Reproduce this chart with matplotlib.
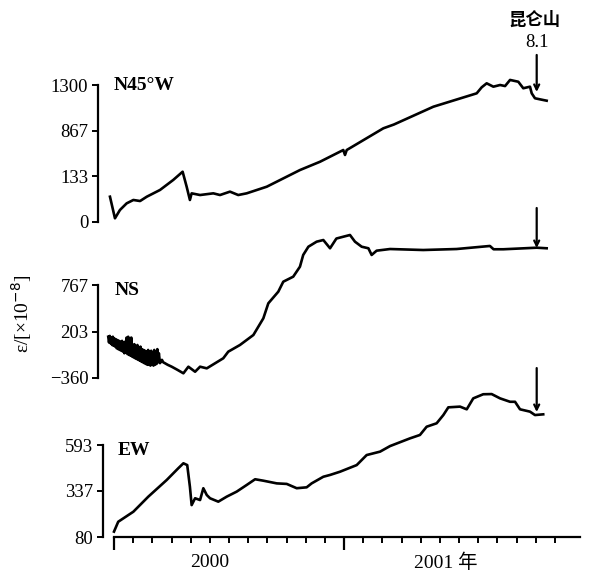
import matplotlib
matplotlib.use("Agg")
import matplotlib.pyplot as plt
from matplotlib.ticker import FixedLocator, NullFormatter
from matplotlib.transforms import blended_transform_factory

# 时间轴: 月份, 0 = 2000年1月
# N45°W 分量
n45w_month = [-0.21, 0.05, 0.31, 0.66, 1.01, 1.36, 1.71, 2.40, 3.09, 3.58, 3.79, 3.96,
              4.05, 4.49, 5.18, 5.53, 6.05, 6.48, 6.92, 7.97, 9.01, 9.70, 10.75, 11.96,
              12.05, 12.14, 14.05, 14.6, 16.66, 18.92, 19.18, 19.44, 19.79, 20.14, 20.40,
              20.66, 21.09, 21.35, 21.70, 21.79, 21.96, 22.22, 22.57]
n45w_value = [240, 35, 114, 177, 209, 199, 240, 304, 399, 477, 335, 209,
              272, 256, 272, 256, 288, 256, 272, 335, 430, 493, 572, 683,
              636, 683, 889, 925, 1094, 1221, 1278, 1316, 1284, 1300, 1290,
              1348, 1331, 1269, 1284, 1221, 1174, 1164, 1151]

# NS 分量
ns_month = [-0.30, -0.26, -0.22, -0.18, -0.14, -0.10, -0.06, -0.02, 0.02, 0.06, 0.10, 0.14,
            0.18, 0.22, 0.26, 0.30, 0.34, 0.38, 0.42, 0.46, 0.50, 0.54, 0.58, 0.62,
            0.66, 0.70, 0.74, 0.78, 0.82, 0.86, 0.90, 0.94, 0.98, 1.02, 1.06, 1.10,
            1.14, 1.18, 1.22, 1.26, 1.30, 1.34, 1.38, 1.42, 1.46, 1.50, 1.54, 1.58,
            1.62, 1.66, 1.70, 1.74, 1.78, 1.82, 1.86, 1.90, 1.94, 1.98, 2.02, 2.06,
            2.10, 2.14, 2.18, 2.22, 2.26, 2.30, 2.34, 2.40, 2.50, 2.57, 2.65, 2.80,
            3.01, 3.30, 3.62, 3.88, 4.23, 4.49, 4.84, 5.27, 5.70, 5.96, 6.57, 7.27,
            7.79, 8.05, 8.57, 8.83, 9.35, 9.70, 9.87, 10.14, 10.57, 10.92, 11.27,
            11.60, 11.96, 12.31, 12.57, 12.92, 13.27, 13.44, 13.70, 14.40, 16.13,
            17.87, 19.61, 19.80, 20.31, 22.05, 22.57]
ns_value = [140, 70, 150, 60, 130, 40, 140, 30, 120, 20, 110, 0,
            100, -10, 90, -20, 80, -30, 90, -40, 70, -60, 80, -50,
            130, -70, 140, -80, 60, -90, 130, -100, 40, -110, 50, -120,
            20, -130, 40, -140, 0, -150, 20, -160, -10, -170, -20, -180,
            -30, -190, -40, -200, -20, -200, -40, -210, -30, -190, -50, -210,
            -20, -200, -40, -190, -10, -170, -60, -180, -140, -170, -180, -200,
            -223, -260, -303, -223, -284, -223, -243, -182, -121, -41, 40, 161,
            363, 545, 686, 807, 868, 989, 1131, 1231, 1292, 1312, 1212,
            1330, 1352, 1373, 1292, 1231, 1212, 1131, 1183, 1203, 1191,
            1203, 1240, 1200, 1200, 1219, 1212]

# EW 分量
ew_month = [0.00, 0.22, 1.01, 1.79, 2.75, 3.35, 3.62, 3.82, 3.96, 4.05, 4.23, 4.49,
            4.66, 4.84, 5.01, 5.44, 5.88, 6.40, 6.92, 7.36, 7.79, 8.49, 9.01, 9.53,
            10.05, 10.31, 10.92, 11.27, 11.79, 12.66, 13.18, 13.88, 14.40, 15.44,
            15.96, 16.31, 16.83, 17.18, 17.44, 18.05, 18.40, 18.74, 19.26, 19.70,
            20.14, 20.66, 20.92, 21.18, 21.70, 21.96, 22.39]
ew_value = [110, 165, 221, 305, 398, 463, 491, 481, 360, 258, 296, 286,
            352, 314, 296, 277, 305, 333, 370, 402, 394, 379, 376, 352,
            357, 379, 416, 426, 444, 481, 537, 556, 587, 630,
            649, 695, 714, 760, 803, 807, 792, 853, 876, 877,
            853, 834, 834, 792, 779, 760, 764]

# 刻度
n45w_ticks = [0, 433, 867, 1300]
n45w_ticklabels = ["0", "133", "867", "1300"]
ns_ticks = [-360, 203, 767]
ns_ticklabels = ["\u2212360", "203", "767"]
ew_ticks = [80, 337, 593]
ew_ticklabels = ["80", "337", "593"]

year_label_month = [5.0, 17.3]
year_labels = ["2000", "2001 年"]
major_months = [0, 12]
minor_months = [m for m in range(1, 24) if m != 12]

quake_month = 22.05
quake_name = "昆仑山"
quake_mag = "8.1"

W, H = 590, 574
X0_PX, PX_PER_MONTH = 114, 19.17
SERIF = "Liberation Serif"
CJK = ["Liberation Serif", "Noto Sans CJK SC"]

fig = plt.figure(figsize=(W / 100, H / 100), dpi=100)


def panel(left_px, top_px, bottom_px, v_hi, y_hi, v_lo, y_lo):
    right_px = 585
    ax = fig.add_axes([left_px / W, 1 - bottom_px / H,
                       (right_px - left_px) / W, (bottom_px - top_px) / H])
    ax.patch.set_alpha(0)
    slope = (v_hi - v_lo) / (y_lo - y_hi)
    ax.set_ylim(v_lo - (bottom_px - y_lo) * slope, v_hi + (y_hi - top_px) * slope)
    ax.set_xlim((left_px - X0_PX) / PX_PER_MONTH, (right_px - X0_PX) / PX_PER_MONTH)
    for s in ["top", "right"]:
        ax.spines[s].set_visible(False)
    ax.spines["left"].set_linewidth(1.6)
    ax.spines["left"].set_bounds(v_lo, v_hi)
    ax.tick_params(axis="y", direction="out", length=4, width=1.4, pad=3,
                   labelsize=13.5)
    return ax


ax1 = panel(98, 40, 230, 1300, 85, 0, 222)
ax2 = panel(98, 195, 385, 767, 285, -360, 378)
ax3 = panel(103, 355, 537, 593, 445, 80, 537)

for ax, ticks, labels in [(ax1, n45w_ticks, n45w_ticklabels),
                          (ax2, ns_ticks, ns_ticklabels),
                          (ax3, ew_ticks, ew_ticklabels)]:
    ax.set_yticks(ticks)
    ax.set_yticklabels(labels, family=SERIF)

for ax in (ax1, ax2):
    ax.spines["bottom"].set_visible(False)
    ax.set_xticks([])

ax1.plot(n45w_month, n45w_value, color="black", lw=1.9, solid_joinstyle="round")
ax2.plot(ns_month, ns_value, color="black", lw=1.9, solid_joinstyle="round")
ax3.plot(ew_month, ew_value, color="black", lw=1.9, solid_joinstyle="round")

# 时间轴
ax3.spines["bottom"].set_linewidth(1.6)
ax3.spines["bottom"].set_bounds(0, 24.3)
ax3.xaxis.set_major_locator(FixedLocator(major_months))
ax3.xaxis.set_minor_locator(FixedLocator(minor_months))
ax3.xaxis.set_major_formatter(NullFormatter())
ax3.tick_params(axis="x", which="major", direction="out", length=9, width=1.6)
ax3.tick_params(axis="x", which="minor", direction="out", length=4, width=1.4)
trans = blended_transform_factory(ax3.transData, ax3.transAxes)
for m, lab in zip(year_label_month, year_labels):
    ax3.text(m, -0.14, lab, transform=trans, ha="center", va="center",
             fontsize=14, family=CJK)

# 分量名称
ax1.text(0.0, 1300, "N45°W", ha="left", va="center", fontsize=14,
         family=SERIF, fontweight="bold")
ax2.text(0.05, 706, "NS", ha="left", va="center", fontsize=14,
         family=SERIF, fontweight="bold")
ax3.text(0.2, 565, "EW", ha="left", va="center", fontsize=14,
         family=SERIF, fontweight="bold")

# 地震标记
arrow = dict(arrowstyle="->", lw=1.6, color="black", mutation_scale=9,
             shrinkA=0, shrinkB=0)
ax1.annotate("", xy=(quake_month, 1234), xytext=(quake_month, 1585),
             arrowprops=arrow, annotation_clip=False)
ax2.annotate("", xy=(quake_month, 1215), xytext=(quake_month, 1700),
             arrowprops=arrow, annotation_clip=False)
ax3.annotate("", xy=(quake_month, 777), xytext=(quake_month, 1022),
             arrowprops=arrow, annotation_clip=False)
ax1.text(quake_month - 0.1, 1917, quake_name, ha="center", va="center",
         fontsize=12.5, family="Noto Sans CJK SC", fontweight="bold", clip_on=False)
ax1.text(quake_month, 1708, quake_mag, ha="center", va="center",
         fontsize=13.5, family=SERIF, clip_on=False)

fig.text(22 / W, 1 - 314 / H, "ε/[×10$^{-8}$]", rotation=90, ha="center",
         va="center", fontsize=14, family=SERIF)

fig.savefig("out.png", dpi=100)
